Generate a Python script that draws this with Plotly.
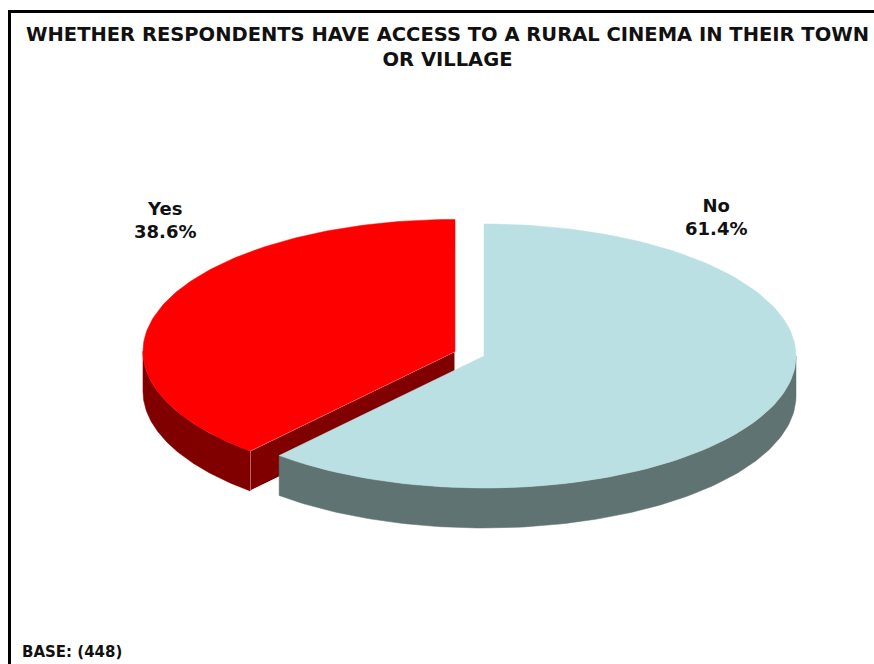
import numpy as np
import plotly.graph_objects as go

# dados
labels = ["No", "Yes"]
values = [61.4, 38.6]
top_colors = ["#BBE0E3", "#FF0000"]
side_colors = ["#5F7373", "#800000"]
exploded = [False, True]
title = "WHETHER RESPONDENTS HAVE ACCESS TO A RURAL CINEMA IN THEIR TOWN<br>OR VILLAGE"
base_text = "BASE: (448)"

# geometria da pizza (pixels)
W, H = 874, 664
cx, cy = 484, 356
rx, ry = 312, 132
depth = 40
explode = 31


def pt(x0, y0, ang, dy=0):
    a = np.radians(ang)
    return x0 + rx * np.sin(a), y0 - ry * np.cos(a) + dy


def arc(x0, y0, a0, a1, dy=0, n=120):
    angs = np.linspace(a0, a1, n)
    xs = x0 + rx * np.sin(np.radians(angs))
    ys = y0 - ry * np.cos(np.radians(angs)) + dy
    return list(xs), list(ys)


fig = go.Figure()

total = sum(values)
start = 0
slices = []
for lab, v, tc, sc, ex in zip(labels, values, top_colors, side_colors, exploded):
    a0 = start
    a1 = start + 360 * v / total
    start = a1
    x0, y0 = cx, cy
    if ex:
        mid = np.radians((a0 + a1) / 2)
        x0 = cx + explode * np.sin(mid)
        y0 = cy - explode * np.cos(mid) * ry / rx
    slices.append((lab, a0, a1, tc, sc, x0, y0))

# desenha de trás para frente
for lab, a0, a1, tc, sc, x0, y0 in reversed(slices):
    # faces radiais
    for edge, normal in [(a0, a0 - 90), (a1, a1 + 90)]:
        if np.cos(np.radians(normal)) < -1e-6:
            ex_, ey_ = pt(x0, y0, edge)
            fig.add_trace(go.Scatter(
                x=[x0, ex_, ex_, x0, x0],
                y=[y0, ey_, ey_ + depth, y0 + depth, y0],
                mode="lines", fill="toself", fillcolor=sc,
                line=dict(color="white", width=1), hoverinfo="skip", showlegend=False))
    # lateral externa
    s0, s1 = max(a0, 90), min(a1, 270)
    if s1 > s0:
        xt, yt = arc(x0, y0, s0, s1)
        xb, yb = arc(x0, y0, s1, s0, dy=depth)
        fig.add_trace(go.Scatter(
            x=xt + xb + [xt[0]], y=yt + yb + [yt[0]],
            mode="lines", fill="toself", fillcolor=sc,
            line=dict(color=sc, width=0.5), hoverinfo="skip", showlegend=False))
    # topo
    xt, yt = arc(x0, y0, a0, a1)
    fig.add_trace(go.Scatter(
        x=[x0] + xt + [x0], y=[y0] + yt + [y0],
        mode="lines", fill="toself", fillcolor=tc,
        line=dict(color=tc, width=0.5), hoverinfo="skip", showlegend=False))

# rótulos
label_pos = {"No": (716, 217), "Yes": (165, 220)}
for lab, v in zip(labels, values):
    lx, ly = label_pos[lab]
    fig.add_annotation(x=lx, y=ly, xref="x", yref="y", showarrow=False,
                       text=f"<b>{lab}<br>{v:.1f}%</b>",
                       font=dict(family="DejaVu Sans", size=18, color="#111111"))

fig.add_annotation(x=447, y=47, xref="x", yref="y", showarrow=False,
                   text=f"<b>{title}</b>",
                   font=dict(family="DejaVu Sans", size=19.5, color="#111111"))
fig.add_annotation(x=20, y=652, xref="x", yref="y", showarrow=False, xanchor="left",
                   yanchor="middle", text=f"<b>{base_text}</b>",
                   font=dict(family="DejaVu Sans", size=15, color="#111111"))

# moldura (passa da borda direita e de baixo)
fig.add_shape(type="rect", xref="paper", yref="paper",
              x0=9.5 / W, x1=1.05, y0=-0.05, y1=1 - 11.5 / H,
              line=dict(color="black", width=3), fillcolor="rgba(0,0,0,0)",
              layer="above")

fig.update_layout(
    width=W, height=H,
    margin=dict(l=0, r=0, t=0, b=0),
    paper_bgcolor="white", plot_bgcolor="white",
    xaxis=dict(range=[0, W], visible=False),
    yaxis=dict(range=[H, 0], visible=False),
)

# sem margem no body, para o gráfico ocupar a janela inteira
fig.write_html("out.html", config={"displayModeBar": False}, post_script=(
    "document.body.style.margin='0';"
    "document.documentElement.style.overflow='hidden';"
    "document.body.style.overflow='hidden';"
))
